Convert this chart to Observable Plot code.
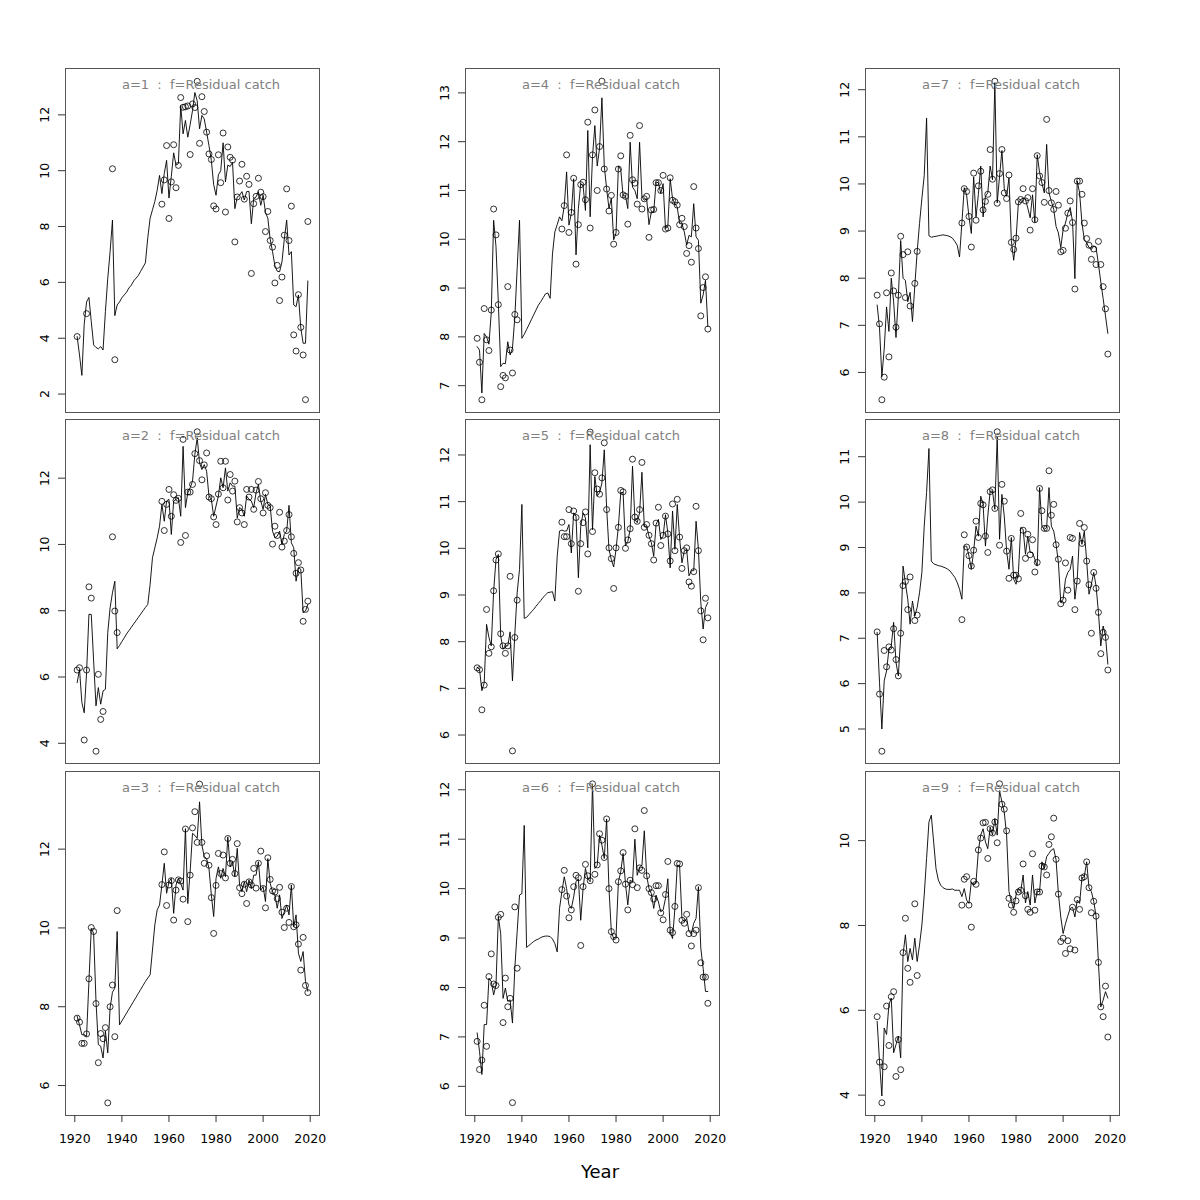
<!DOCTYPE html>
<html>
<head>
<meta charset="utf-8">
<script src="https://cdn.jsdelivr.net/npm/d3@7"></script>
<script src="https://cdn.jsdelivr.net/npm/@observablehq/plot@0.6"></script>
<style>
  html, body { margin: 0; padding: 0; background: #fff; }
  #chart { position: relative; width: 1200px; height: 1200px; background: #fff; font-family: "DejaVu Sans", sans-serif; }
  .panel { position: absolute; }
  #xlabel { position: absolute; left: 0; width: 1200px; top: 1161px; text-align: center; font-size: 18px; color: #000; }
</style>
</head>
<body>
<div id="chart"><div id="xlabel">Year</div></div>
<script>
const years = [1921,1922,1923,1924,1925,1926,1927,1928,1929,1930,1931,1932,1933,1934,1935,1936,1937,1938,
  1939,1940,1941,1942,1943,1944,1945,1946,1947,1948,1949,1950,1951,1952,1953,1954,1955,1956,
  1957,1958,1959,1960,1961,1962,1963,1964,1965,1966,1967,1968,1969,1970,1971,1972,1973,1974,1975,1976,
  1977,1978,1979,1980,1981,1982,1983,1984,1985,1986,1987,1988,1989,1990,1991,1992,1993,1994,1995,1996,
  1997,1998,1999,2000,2001,2002,2003,2004,2005,2006,2007,2008,2009,2010,2011,2012,2013,2014,2015,2016,
  2017,2018,2019];
const xTicks = [1920, 1940, 1960, 1980, 2000, 2020];
const _ = null;
const gap = [_,_,_,_,_,_,_,_,_,_,_,_,_,_,_,_,_,_];

// observed points (1921-1938, gap 1939-1956, 1957-2019)
const obs_a1 = [4.06,_,_,_,4.88,_,_,_,_,_,_,_,_,_,_,10.07,3.23,_, ...gap,
  8.80,9.67,10.90,8.29,9.60,10.93,9.39,10.19,12.62,12.27,
  12.29,12.32,10.58,12.39,12.26,13.20,10.98,12.65,12.12,11.38,
  10.60,10.40,8.74,8.63,10.57,9.57,11.35,8.52,10.85,10.48,
  10.38,7.45,9.06,9.63,10.23,8.98,9.80,9.51,6.32,8.82,
  9.08,9.73,9.23,9.07,7.82,8.54,7.50,7.26,5.98,6.61,
  5.35,6.19,7.69,9.35,7.50,8.73,4.12,3.54,5.56,4.39,
  3.40,1.80,8.18];
const fit_a1 = [4.06,3.4,2.67,4.5,5.3,5.46,4.6,3.76,3.67,3.62,3.7,3.58,4.95,6.14,7.1,8.23,4.81,5.19,
  5.3,5.45,5.55,5.65,5.8,5.9,6.05,6.15,6.25,6.4,6.55,6.7,7.6,8.3,8.6,8.9,9.3,9.83,
  9.18,9.9,10.37,9.02,9.8,10.64,10.2,10.25,12.33,11.32,
  11.8,11.2,11.65,12.15,12.8,12.5,11.5,11.98,11.85,11.38,
  10.9,10.37,9.5,9.12,9.85,10.0,11.0,9.6,10.2,10.15,
  10.3,8.64,9.06,9.12,9.25,8.95,9.25,9.26,8.1,9.0,
  9.06,9.25,8.76,9.12,8.5,8.3,7.55,7.1,6.6,6.4,
  6.38,6.73,7.55,8.23,6.98,7.1,5.19,5.13,5.55,4.37,
  3.82,3.82,6.05];

const obs_a2 = [6.21,6.28,_,4.10,6.21,8.72,8.38,_,3.76,6.08,4.72,4.96,_,_,_,10.23,7.99,7.34, ...gap,
  11.30,10.42,11.21,11.66,10.85,11.50,11.33,11.39,10.06,13.17,
  10.27,11.58,11.58,11.81,12.74,13.40,12.53,11.95,12.40,12.76,
  11.43,11.38,10.83,10.60,11.52,12.51,11.71,12.51,11.34,12.11,
  11.61,11.91,10.68,11.11,10.95,10.60,11.66,11.43,11.66,11.06,
  11.64,11.90,11.38,10.95,11.56,11.18,11.11,10.01,10.55,10.27,
  10.97,9.92,10.10,10.42,10.90,10.23,9.73,9.13,9.45,9.23,
  7.68,8.04,8.29];
const fit_a2 = [5.83,6.23,5.23,4.92,6.13,7.89,7.89,6.48,5.13,5.68,5.18,5.58,5.63,7.34,8.09,8.54,8.89,6.85,
  6.95,7.07,7.18,7.3,7.4,7.5,7.6,7.7,7.8,7.9,8.0,8.1,8.19,8.8,9.6,9.9,10.2,10.55,
  11.21,10.70,11.31,11.36,10.30,11.31,11.36,11.41,10.85,12.96,
  11.11,11.56,11.71,11.91,12.71,13.22,12.46,12.26,12.41,12.21,
  11.46,11.36,10.85,11.16,11.46,12.01,11.71,12.31,11.61,11.86,
  11.76,11.76,10.80,11.11,11.06,10.85,11.46,11.36,11.31,11.11,
  11.56,11.81,11.31,11.06,11.51,11.21,11.16,10.40,10.20,10.25,
  10.40,10.0,10.30,10.40,11.18,10.05,9.90,8.89,9.30,9.25,
  7.94,7.99,8.19];

const obs_a3 = [7.71,7.61,7.07,7.07,7.31,8.71,10.01,9.91,8.08,6.58,7.32,7.19,7.47,5.56,8.0,8.55,7.24,10.44, ...gap,
  11.10,11.93,10.57,11.09,11.20,10.20,10.96,11.22,11.19,10.73,
  12.51,10.16,11.34,12.54,12.95,12.17,13.65,12.17,11.64,11.83,
  11.59,10.77,9.86,11.08,11.89,11.38,11.85,11.27,12.27,11.64,
  11.74,11.38,12.14,11.02,10.87,11.11,10.62,11.17,11.09,11.51,
  11.01,11.64,11.95,11.0,10.51,11.78,11.23,10.94,10.91,10.74,
  11.03,10.40,10.01,10.50,10.14,11.05,10.03,10.08,9.59,8.93,
  9.76,8.54,8.36];
const fit_a3 = [7.76,7.54,7.29,7.29,7.25,8.64,9.99,9.86,8.14,7.04,7.0,6.70,7.38,6.83,7.97,8.37,8.47,9.91,
  7.54,7.64,7.74,7.84,7.94,8.04,8.14,8.24,8.34,8.44,8.54,8.64,8.73,8.81,9.44,10.08,10.46,10.58,
  11.09,11.64,10.88,11.17,11.26,10.37,11.09,11.26,11.13,10.96,
  12.52,10.62,11.43,12.40,12.35,12.27,13.20,12.10,11.81,11.76,
  11.51,10.84,10.29,11.26,11.55,11.26,11.51,11.30,12.31,11.55,
  11.68,11.30,12.02,11.09,10.92,11.17,10.92,11.22,11.0,11.34,
  11.34,11.68,10.96,11.05,10.67,11.76,11.13,10.92,10.84,10.50,
  10.84,10.24,10.41,10.58,10.33,11.09,10.03,10.33,9.36,9.15,
  9.40,8.64,8.39];

const obs_a4 = [7.97,7.48,6.71,8.58,7.94,7.72,8.55,10.62,10.09,8.66,6.98,7.21,7.16,9.03,7.73,7.26,8.46,8.35, ...gap,
  10.21,10.69,11.73,10.14,10.55,11.25,9.49,10.30,11.12,11.17,
  10.81,12.40,10.23,11.73,12.65,11.0,11.90,13.24,11.44,11.03,
  10.58,10.90,9.90,10.14,11.44,11.71,10.91,10.88,10.31,12.13,
  11.22,11.15,10.72,12.33,10.62,10.83,10.88,10.04,10.60,10.61,
  11.16,11.16,11.0,11.31,10.21,10.23,11.26,10.80,10.77,10.70,
  10.30,10.43,10.26,9.71,9.87,9.53,11.08,10.23,9.81,8.43,
  9.01,9.23,8.16];
const fit_a4 = [7.8,7.73,6.85,8.07,8.0,7.85,8.5,10.39,9.85,8.7,7.39,7.46,7.45,7.9,7.63,7.77,8.4,9.4,
  10.39,7.97,8.05,8.15,8.25,8.35,8.45,8.55,8.65,8.72,8.8,8.88,8.9,8.79,9.7,10.15,10.3,10.46,
  10.38,10.68,11.38,10.29,10.53,11.24,9.68,10.63,11.14,11.1,
  10.59,12.23,10.46,11.7,12.33,11.5,11.87,12.9,11.5,11.04,
  10.63,10.84,9.99,10.13,11.5,11.43,10.89,10.89,10.63,11.99,
  11.07,11.0,10.83,11.99,10.87,10.8,10.83,10.3,10.56,10.56,
  11.17,11.16,10.94,11.14,10.22,10.26,11.24,10.83,10.73,10.66,
  10.32,10.32,10.15,9.88,10.08,10.05,10.73,10.05,9.98,8.69,
  8.86,9.16,8.21];

const obs_a5 = [7.44,7.40,6.54,7.07,8.69,7.75,7.89,9.09,9.75,9.88,8.17,7.91,7.75,7.91,9.40,5.66,8.09,8.89, ...gap,
  10.56,10.25,10.25,10.83,10.10,10.80,10.66,9.08,10.10,10.55,
  10.78,9.88,12.49,10.36,11.62,11.27,11.16,11.51,12.26,10.83,
  10.01,9.78,9.14,10.01,10.45,11.24,11.21,10.0,10.18,10.42,
  11.91,10.67,10.58,10.83,11.84,10.45,10.51,10.28,10.10,9.75,
  10.54,10.88,10.06,10.28,10.69,10.31,9.73,10.95,9.95,11.05,
  10.24,9.57,9.95,10.01,9.28,9.19,9.50,10.90,9.95,8.66,
  8.04,8.93,8.51];
const fit_a5 = [7.45,7.41,6.95,7.12,8.37,8.09,7.91,9.08,9.76,9.87,8.12,7.84,7.91,7.91,8.21,7.16,8.16,9.05,
  9.55,10.94,8.50,8.52,8.58,8.64,8.69,8.76,8.82,8.88,8.95,9.0,9.05,9.06,9.07,8.87,9.83,10.37,
  10.39,10.37,10.37,10.51,9.90,10.76,10.69,9.37,10.47,10.76,
  10.65,10.01,12.22,10.40,11.54,11.12,11.19,11.40,12.11,10.87,
  9.98,9.76,9.60,9.98,10.47,11.19,11.20,10.05,10.15,10.40,
  11.76,10.62,10.55,10.76,11.63,10.47,10.47,10.26,10.12,9.83,
  10.51,10.62,10.19,10.26,10.72,10.33,9.58,10.80,9.98,10.94,
  10.22,9.69,9.94,9.98,9.41,9.52,9.52,10.58,9.98,8.84,
  8.27,8.73,8.84];

const obs_a6 = [6.91,6.34,6.53,7.64,6.81,8.22,8.68,8.07,8.04,9.42,9.48,7.29,8.19,7.61,7.78,5.67,9.63,8.39, ...gap,
  9.98,10.37,9.85,9.41,9.57,10.04,10.27,10.22,8.85,10.04,
  10.49,10.26,10.16,12.12,10.29,10.48,11.11,10.98,10.63,11.41,
  10.0,9.13,9.03,8.96,10.14,10.36,10.73,10.09,9.57,10.17,
  10.08,11.21,10.02,10.42,10.37,11.58,10.26,10.0,9.92,9.79,
  10.06,10.06,9.51,9.37,9.88,10.55,9.16,9.11,9.64,10.51,
  10.50,9.36,9.30,9.48,9.09,8.84,9.09,9.16,10.02,8.50,
  8.21,8.21,7.68];
const fit_a6 = [7.08,6.71,6.24,7.25,7.25,8.19,8.12,7.85,8.05,9.43,9.09,7.78,7.99,7.72,7.75,7.28,8.39,9.13,
  9.87,9.90,11.28,8.81,8.85,8.89,8.93,8.96,8.98,9.01,9.03,9.04,9.04,9.03,8.98,8.89,8.72,9.60,
  9.94,10.24,10.0,9.67,9.60,9.83,10.14,10.20,9.36,10.0,
  10.41,10.20,10.14,12.12,10.41,10.47,11.08,10.88,10.61,11.41,
  10.0,9.13,8.99,9.03,10.14,10.34,10.71,10.10,9.67,10.17,
  10.14,11.0,10.27,10.44,10.47,11.17,10.27,10.0,9.90,9.60,
  9.87,9.73,9.53,9.57,9.80,10.20,9.13,8.99,9.60,10.47,
  10.47,9.40,9.33,9.40,9.13,9.09,9.30,9.40,10.04,8.80,
  8.39,7.92,7.92];

const obs_a7 = [7.64,7.03,5.42,5.90,7.69,6.33,8.11,7.73,6.96,7.64,8.89,8.50,7.59,8.56,7.41,_,7.89,8.57, ...gap,
  9.17,9.90,9.84,9.31,8.66,10.23,9.23,9.96,10.27,9.45,
  9.63,9.78,10.73,10.10,12.18,9.59,10.22,10.73,9.81,9.69,
  10.19,8.76,8.61,8.85,9.62,9.67,9.9,9.64,9.71,9.02,
  9.90,9.24,10.60,10.17,10.03,9.61,11.37,9.86,9.60,9.46,
  9.84,9.55,8.56,8.59,9.06,9.38,9.64,9.18,7.77,10.06,
  10.06,9.78,9.17,8.84,8.70,8.40,8.62,8.29,8.78,8.29,
  7.82,7.35,6.39];
const fit_a7 = [7.43,6.95,5.91,6.5,7.39,6.87,8.0,7.5,6.74,7.6,8.8,8.0,7.95,7.5,7.7,7.08,7.85,8.56,
  9.16,9.69,10.18,11.4,8.9,8.87,8.88,8.89,8.9,8.91,8.92,8.91,8.9,8.88,8.85,8.78,8.7,8.45,
  9.18,9.92,9.77,9.3,8.95,10.15,9.3,9.78,10.38,9.3,
  9.74,9.81,10.38,10.09,12.15,9.6,10.16,10.71,9.9,9.74,
  10.13,8.8,8.38,8.83,9.6,9.67,9.7,9.67,9.49,9.28,
  9.77,9.18,10.62,10.24,10.02,9.81,10.84,9.81,9.63,9.46,
  9.1,8.96,8.65,9.03,9.17,9.38,9.5,9.2,7.99,10.06,
  9.81,9.17,8.82,8.75,8.65,8.61,8.68,8.65,8.3,7.92,
  7.57,7.2,6.83];

const obs_a8 = [7.14,5.77,4.51,6.73,6.37,6.81,6.74,7.21,6.53,6.17,7.11,8.16,8.25,7.63,8.35,_,7.39,7.51, ...gap,
  7.41,9.28,9.01,8.82,8.59,8.94,9.58,9.22,9.97,9.94,
  9.25,8.89,10.23,10.27,9.86,11.55,9.05,10.39,10.02,8.92,
  8.32,9.20,8.39,8.39,8.31,9.75,9.38,8.76,9.29,8.84,
  9.17,8.46,8.67,10.30,9.81,9.42,9.42,10.69,9.71,9.95,
  9.06,8.74,7.76,7.84,8.66,8.06,9.22,9.20,7.63,8.26,
  9.53,9.09,9.44,8.70,8.18,7.11,8.45,8.10,7.57,6.66,
  7.13,7.02,6.30];
const fit_a8 = [7.13,6.03,5.0,6.06,6.28,6.76,6.83,7.35,6.47,6.17,7.05,8.59,8.22,7.86,7.31,7.82,7.49,7.68,
  8.0,8.45,9.47,10.21,11.18,8.70,8.64,8.62,8.60,8.59,8.57,8.55,8.52,8.48,8.41,8.34,8.23,8.08,
  7.86,9.03,9.03,8.81,8.52,8.92,9.47,9.25,10.13,9.95,
  9.03,9.69,10.24,10.24,9.84,11.45,9.18,10.17,9.69,8.92,
  8.52,9.22,8.30,8.19,8.45,9.44,9.40,8.85,9.25,8.89,
  8.89,8.74,8.59,10.32,9.47,9.40,9.44,10.32,9.47,9.36,
  9.07,8.67,7.79,7.86,8.30,8.45,8.52,8.81,7.86,8.30,
  9.33,9.07,9.36,8.70,7.97,8.19,8.45,8.15,7.57,6.83,
  7.27,7.05,6.43];

const obs_a9 = [5.85,4.78,3.82,4.67,6.10,5.17,6.32,6.44,4.44,5.31,4.60,7.36,8.17,6.99,6.66,_,8.51,6.82, ...gap,
  8.48,9.09,9.15,8.48,7.96,9.04,8.97,9.78,10.06,10.42,
  10.43,9.58,10.28,10.18,10.44,9.95,11.34,10.86,10.74,10.23,
  8.64,8.48,8.31,8.58,8.79,8.83,9.45,8.70,8.38,8.31,
  9.69,8.36,8.79,8.79,9.40,9.38,9.19,9.91,10.09,10.53,
  9.56,8.74,7.62,7.70,7.34,7.64,7.45,8.43,7.42,8.61,
  8.38,9.12,9.15,9.50,8.89,8.30,8.57,8.22,7.13,6.08,
  5.85,6.57,5.37];
const fit_a9 = [5.74,4.80,3.98,5.58,5.43,6.13,6.29,5.0,5.19,5.39,4.88,7.31,7.78,7.15,7.46,7.19,7.70,7.15,
  7.54,8.01,8.72,9.58,10.44,10.60,9.97,9.34,9.07,8.95,8.89,8.86,8.85,8.85,8.86,8.83,8.83,8.83,
  8.68,8.87,8.6,8.52,9.03,8.95,9.03,9.76,10.13,10.28,
  9.97,9.81,10.32,10.13,10.52,10.13,11.18,10.91,10.67,10.13,
  8.80,8.56,8.40,8.72,8.87,8.80,9.19,8.53,8.80,8.48,
  9.19,8.53,8.80,8.80,9.50,9.34,9.62,9.70,9.78,9.81,
  9.55,8.75,8.2,7.81,8.04,8.23,8.4,8.43,8.2,8.6,
  8.52,9.12,9.15,9.50,8.89,8.80,8.57,8.22,7.13,6.08,
  6.24,6.44,6.29];

const yTicks_a1 = [2,4,6,8,10,12];
const yTicks_a2 = [4,6,8,10,12];
const yTicks_a3 = [6,8,10,12];
const yTicks_a4 = [7,8,9,10,11,12,13];
const yTicks_a5 = [6,7,8,9,10,11,12];
const yTicks_a6 = [6,7,8,9,10,11,12];
const yTicks_a7 = [6,7,8,9,10,11,12];
const yTicks_a8 = [5,6,7,8,9,10,11];
const yTicks_a9 = [4,6,8,10];

const panels = [
  {a: 1, obs: obs_a1, fit: fit_a1, ticks: yTicks_a1, domain: [1.34, 13.66], col: 0, row: 0},
  {a: 2, obs: obs_a2, fit: fit_a2, ticks: yTicks_a2, domain: [3.39, 13.77], col: 0, row: 1},
  {a: 3, obs: obs_a3, fit: fit_a3, ticks: yTicks_a3, domain: [5.24, 13.97], col: 0, row: 2},
  {a: 4, obs: obs_a4, fit: fit_a4, ticks: yTicks_a4, domain: [6.45, 13.50], col: 1, row: 0},
  {a: 5, obs: obs_a5, fit: fit_a5, ticks: yTicks_a5, domain: [5.39, 12.76], col: 1, row: 1},
  {a: 6, obs: obs_a6, fit: fit_a6, ticks: yTicks_a6, domain: [5.41, 12.37], col: 1, row: 2},
  {a: 7, obs: obs_a7, fit: fit_a7, ticks: yTicks_a7, domain: [5.15, 12.45], col: 2, row: 0},
  {a: 8, obs: obs_a8, fit: fit_a8, ticks: yTicks_a8, domain: [4.24, 11.82], col: 2, row: 1},
  {a: 9, obs: obs_a9, fit: fit_a9, ticks: yTicks_a9, domain: [3.52, 11.63], col: 2, row: 2}
];

const boxLeft = [65, 465, 865];
const boxTop = [68, 419, 771];
const boxW = 254, boxH = 344;
const mL = 50, mT = 10, mR = 10;
const chart = document.getElementById("chart");

for (const p of panels) {
  const bottom = p.row === 2;
  const mB = bottom ? 45 : 10;
  const rows = years.map((y, i) => ({year: y, obs: p.obs[i], fit: p.fit[i]}));
  const pts = rows.filter(d => d.obs != null);
  const marks = [
    Plot.frame({stroke: "#555", strokeWidth: 1}),
    Plot.axisY(p.ticks, {tickSize: 7, tickPadding: 10, tickRotate: -90, textAnchor: "middle",
      tickFormat: d => String(d), fontSize: 12.5, stroke: "#333", label: null}),
    Plot.line(rows, {x: "year", y: "fit", stroke: "#000", strokeWidth: 0.9}),
    Plot.dot(pts, {x: "year", y: "obs", r: 3, stroke: "#000", strokeWidth: 0.8, fill: "none"}),
    Plot.text([`a=${p.a}\u00a0 :\u00a0 f=Residual catch`], {frameAnchor: "top", dx: 8.5, dy: 11,
      text: d => d, fill: "#808080", fontSize: 13})
  ];
  if (bottom) {
    marks.push(Plot.axisX(xTicks, {tickSize: 7, tickPadding: 12, tickFormat: d => String(d),
      fontSize: 12.5, stroke: "#333", label: null}));
  }
  const svg = Plot.plot({
    width: boxW + mL + mR,
    height: boxH + mT + mB,
    marginLeft: mL, marginRight: mR, marginTop: mT, marginBottom: mB,
    x: {domain: [1916.05, 2023.95], axis: bottom ? undefined : null},
    y: {domain: p.domain},
    style: {fontFamily: "DejaVu Sans", fontSize: "12.5px", background: "transparent", overflow: "visible", color: "#000"},
    marks
  });
  const wrap = document.createElement("div");
  wrap.className = "panel";
  wrap.style.left = (boxLeft[p.col] - mL) + "px";
  wrap.style.top = (boxTop[p.row] - mT) + "px";
  wrap.appendChild(svg);
  chart.appendChild(wrap);
}
</script>
</body>
</html>
